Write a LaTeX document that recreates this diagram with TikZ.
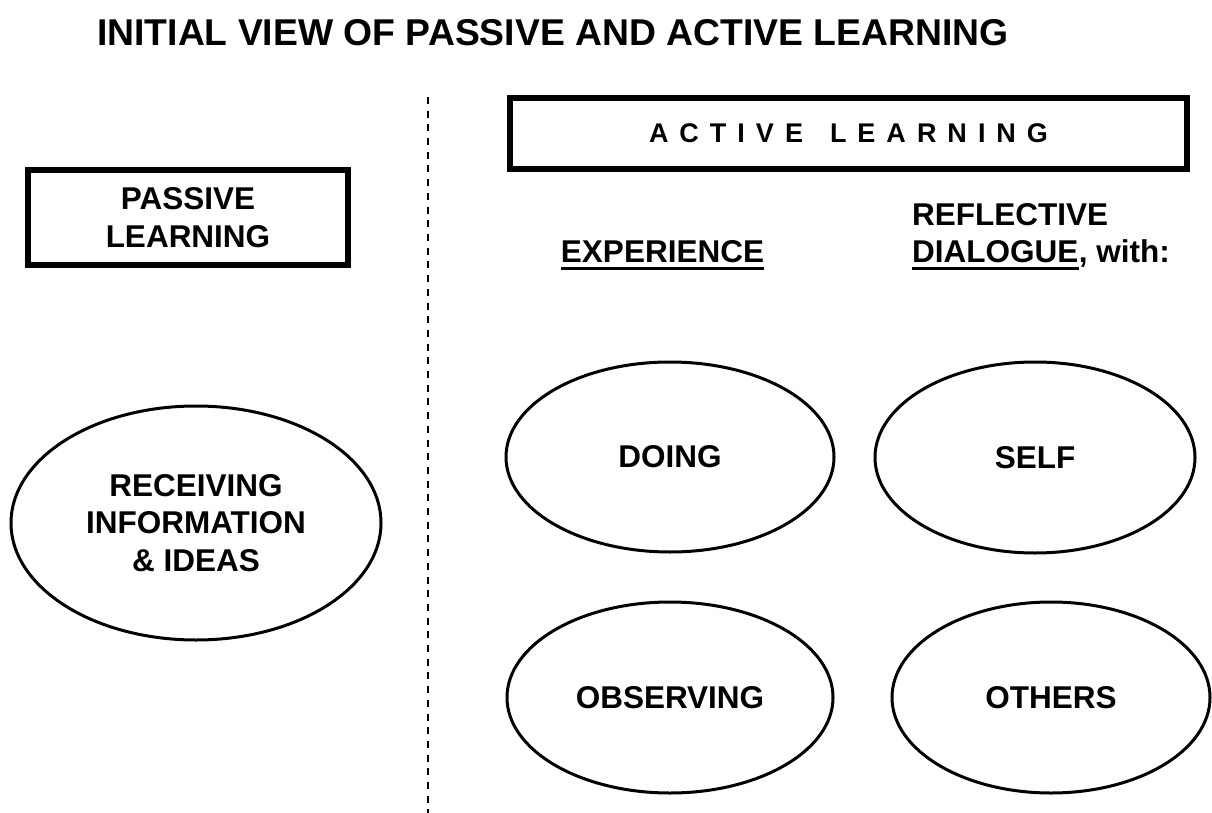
\documentclass[tikz,border=0pt]{standalone}
\usepackage{fontspec}
\setmainfont{Liberation Sans}
\usetikzlibrary{shapes.geometric}
\newcommand\lsp{\hspace{11pt}}
\begin{document}
\begin{tikzpicture}[x=1pt,y=-1pt,
  every node/.style={font=\bfseries\fontsize{31.5}{37.5}\selectfont, inner sep=0pt, align=center},
  hbox/.style={draw, line width=6pt},
  oval/.style={draw, ellipse, line width=3pt},
  uline/.style={line width=3pt},
  divider/.style={line width=1.5pt, dash pattern=on 7pt off 6.7pt}]
\useasboundingbox (0,0) rectangle (1212,813);
\fill[white] (0,0) rectangle (1212,813);

\node[anchor=west, font=\bfseries\fontsize{37.3}{45}\selectfont] (title) at (97,33) {INITIAL VIEW OF PASSIVE AND ACTIVE LEARNING};

\coordinate (dtop) at (428,97);
\coordinate (dbot) at (428,813);
\draw[divider] (dtop) -- (dbot);

\node[hbox, minimum width=320pt, minimum height=95pt] (pbox) at (188,217.5) {PASSIVE\\LEARNING};

\node[hbox, minimum width=677.5pt, minimum height=71pt, font=\bfseries\fontsize{27}{32}\selectfont] (abox) at (848.5,133.5)
  {A\lsp C\lsp T\lsp I\lsp V\lsp E\hspace{27pt}L\lsp E\lsp A\lsp R\lsp N\lsp I\lsp N\lsp G};

\node (exp) at (662.5,252) {EXPERIENCE};
\draw[uline] ([yshift=-5pt]exp.south west) -- ([yshift=-5pt]exp.south east);

\node[anchor=west] (refl) at (912,215) {REFLECTIVE};
\node[anchor=west] (dia) at (912,252) {DIALOGUE};
\node[anchor=base west] (with) at (dia.base east) {, with:};
\draw[uline] ([yshift=-5pt]dia.south west) -- ([yshift=-5pt]dia.south east);

\node[oval, minimum width=370pt, minimum height=234pt] (recv) at (196,523) {RECEIVING\\INFORMATION\\\& IDEAS};
\node[oval, minimum width=328pt, minimum height=190pt] (doing) at (670,457) {DOING};
\node[oval, minimum width=320pt, minimum height=191pt] (self) at (1035,457.5) {SELF};
\node[oval, minimum width=326pt, minimum height=191pt] (obs) at (670,697.5) {OBSERVING};
\node[oval, minimum width=318pt, minimum height=191pt] (others) at (1051,697.5) {OTHERS};
\end{tikzpicture}
\end{document}
